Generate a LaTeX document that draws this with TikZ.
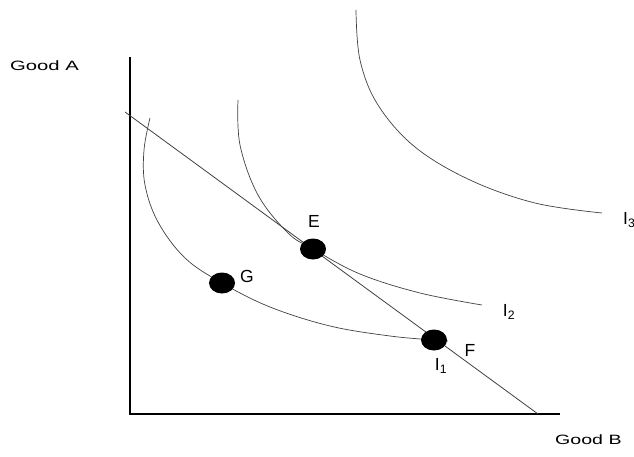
\documentclass[tikz,border=0pt]{standalone}
\usepackage{fontspec}
\setmainfont{Liberation Sans}
\usetikzlibrary{shapes.geometric}
\begin{document}
\begin{tikzpicture}[x=1pt,y=-1pt,
  axis/.style={line width=2pt,black},
  icurve/.style={line width=0.7pt,black!75},
  budget/.style={line width=0.8pt,black!75},
  pt/.style={ellipse,fill=black,minimum width=26pt,minimum height=21pt,inner sep=0pt},
  lbl/.style={font=\fontsize{17.5}{17.5}\selectfont,inner sep=0pt},
  axlbl/.style={font=\fontsize{13.5}{13.5}\selectfont,inner sep=0pt}]
\useasboundingbox (0,0) rectangle (634,457);
\coordinate (O) at (130,414);
\coordinate (ytop) at (130,57);
\coordinate (xend) at (560,414);
\draw[axis] (ytop) -- (O) -- (xend);
% budget line
\coordinate (b1) at (125,112);
\coordinate (b2) at (538,414);
\draw[budget] (b1) -- (b2);
% indifference curves
\draw[icurve] plot[smooth,tension=0.6] coordinates {(150,118) (144,150) (145,185) (158,222) (185,258) (222,283) (270,307) (330,326) (390,336) (434,340) (448,341)};
\draw[icurve] plot[smooth,tension=0.6] coordinates {(238,100) (240,145) (258,195) (288,233) (313,249) (360,274) (420,293) (482,305)};
\draw[icurve] plot[smooth,tension=0.6] coordinates {(356,10) (360,60) (378,105) (415,147) (470,180) (535,203) (602,213)};
% points
\node[pt] (E) at (313,249) {};
\node[pt] (G) at (222,283) {};
\node[pt] (F) at (434,340) {};
\node[lbl] (Elbl) at (314,221) {E};
\node[lbl] (Glbl) at (247,276) {G};
\node[lbl] (Flbl) at (470,350) {F};
\node[lbl] (I1) at (441,366) {I\textsubscript{1}};
\node[lbl] (I2) at (509,312) {I\textsubscript{2}};
\node[lbl,anchor=west] (I3) at (623,220) {I\textsubscript{3}};
\node[axlbl,anchor=west] (gA) at (10,66) {\scalebox{1.5}[1]{Good A}};
\node[axlbl,anchor=west] (gB) at (555,440) {\scalebox{1.45}[1]{Good B}};
\end{tikzpicture}
\end{document}
